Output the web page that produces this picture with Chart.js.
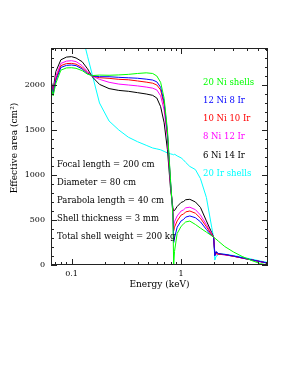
<!DOCTYPE html>
<html>
<head>
<meta charset="utf-8">
<script src="https://cdn.jsdelivr.net/npm/chart.js@4.4.0/dist/chart.umd.min.js"></script>
<style>
  html, body { margin: 0; padding: 0; background: #fff; }
  #wrap { width: 285px; height: 382px; }
</style>
</head>
<body>
<div id="wrap"><canvas id="chart" width="285" height="382"></canvas></div>
<script>
// energy grid (keV), shared by all curves
const energy = [0.065, 0.068, 0.072, 0.08, 0.09, 0.1, 0.11, 0.125, 0.14, 0.155, 0.18, 0.22, 0.27, 0.33, 0.4, 0.48, 0.55, 0.6, 0.65, 0.7, 0.75, 0.8, 0.84, 0.855, 0.87, 0.92, 1.0, 1.05, 1.1, 1.2, 1.35, 1.5, 1.7, 1.9, 1.98, 2.03, 2.08, 2.2, 2.5, 3.0, 3.6, 4.5, 5.3, 6.2];

// effective area (cm2)
const ni20 = [2000, 1880, 2020, 2165, 2190, 2192, 2185, 2160, 2120, 2105, 2110, 2108, 2112, 2118, 2128, 2135, 2128, 2100, 2030, 1850, 1500, 950, 560, 0, 150, 350, 430, 455, 478, 488, 450, 410, 365, 325, 308, 298, 288, 262, 205, 145, 95, 45, 15, 0];
const ni12ir8 = [2020, 1900, 2050, 2195, 2218, 2222, 2215, 2178, 2125, 2102, 2092, 2092, 2085, 2080, 2075, 2065, 2055, 2035, 1975, 1810, 1470, 930, 580, 250, 300, 420, 490, 505, 532, 545, 525, 480, 395, 325, 306, 100, 150, 125, 118, 100, 80, 55, 38, 20];
const ni10ir10 = [2030, 1910, 2070, 2215, 2238, 2240, 2232, 2192, 2135, 2100, 2081, 2074, 2063, 2058, 2045, 2032, 2020, 2000, 1945, 1780, 1450, 910, 600, 380, 420, 490, 555, 565, 590, 600, 575, 520, 425, 335, 306, 110, 125, 118, 115, 98, 78, 54, 37, 20];
const ni8ir12 = [2040, 1925, 2100, 2240, 2265, 2270, 2260, 2215, 2150, 2098, 2063, 2030, 2010, 2000, 1990, 1977, 1965, 1945, 1880, 1720, 1400, 890, 620, 430, 480, 545, 600, 612, 635, 642, 615, 555, 450, 345, 307, 120, 130, 120, 112, 97, 77, 53, 36, 20];
const ni6ir14 = [2050, 1950, 2150, 2280, 2310, 2315, 2300, 2259, 2180, 2090, 2007, 1960, 1940, 1930, 1915, 1900, 1885, 1855, 1760, 1580, 1280, 850, 640, 600, 605, 650, 695, 705, 725, 730, 700, 640, 490, 360, 308, 130, 140, 125, 115, 98, 78, 54, 37, 20];
const ir20 = [4000, 3900, 3750, 3500, 3250, 3000, 2800, 2560, 2320, 2110, 1800, 1600, 1500, 1420, 1370, 1330, 1300, 1290, 1280, 1262, 1245, 1235, 1228, 1222, 1232, 1212, 1190, 1168, 1140, 1095, 1060, 960, 750, 420, 305, 55, 95, 118, 120, 105, 88, 62, 44, 28];

const seriesLabels = ['20 Ni shells', '12 Ni 8 Ir', '10 Ni 10 Ir', '8 Ni 12 Ir', '6 Ni 14 Ir', '20 Ir shells'];
const seriesColors = ['#00ff00', '#0000ff', '#ff0000', '#ff00ff', '#000000', '#00ffff'];
const seriesValues = [ni20, ni12ir8, ni10ir10, ni8ir12, ni6ir14, ir20];

const notes = ['Focal length = 200 cm', 'Diameter = 80 cm', 'Parabola length = 40 cm', 'Shell thickness = 3 mm', 'Total shell weight = 200 kg'];

const xTickValues = [0.1, 1];
const xMinorTicks = [0.07, 0.08, 0.09, 0.1, 0.2, 0.3, 0.4, 0.5, 0.6, 0.7, 0.8, 0.9, 1, 2, 3, 4, 5, 6];
const yTickValues = [0, 500, 1000, 1500, 2000];
const yMinorTicks = [100, 200, 300, 400, 600, 700, 800, 900, 1100, 1200, 1300, 1400, 1600, 1700, 1800, 1900, 2100, 2200, 2300, 2400];

const FONT = 'DejaVu Serif';

const frameTicks = {
    id: 'frameTicks',
    afterDatasetsDraw(chart) {
        const { ctx, chartArea: a, scales: { x, y } } = chart;
        ctx.save();
        ctx.strokeStyle = '#222';
        ctx.lineWidth = 1;
        ctx.strokeRect(a.left + 0.5, a.top + 0.5, a.right - a.left - 1, a.bottom - a.top - 1);
        ctx.beginPath();
        xMinorTicks.forEach(v => {
            const px = Math.round(x.getPixelForValue(v)) + 0.5;
            const len = xTickValues.includes(v) ? 6 : 3;
            ctx.moveTo(px, a.bottom); ctx.lineTo(px, a.bottom - len);
            ctx.moveTo(px, a.top); ctx.lineTo(px, a.top + len);
        });
        yTickValues.concat(yMinorTicks).forEach(v => {
            const py = Math.round(y.getPixelForValue(v)) + 0.5;
            const len = yTickValues.includes(v) ? 6 : 3;
            ctx.moveTo(a.left, py); ctx.lineTo(a.left + len, py);
            ctx.moveTo(a.right, py); ctx.lineTo(a.right - len, py);
        });
        ctx.stroke();
        ctx.restore();
    },
    afterDraw(chart) {
        const { ctx } = chart;
        ctx.save();
        ctx.textBaseline = 'middle';
        ctx.font = '8.5px "' + FONT + '"';
        // legend as coloured text
        seriesLabels.forEach((t, i) => {
            ctx.fillStyle = seriesColors[i];
            ctx.fillText(t, 203, 82.5 + i * 18.2);
        });
        ctx.fillStyle = '#000';
        notes.forEach((t, i) => ctx.fillText(t, 57, 164.5 + i * 18.1));
        // axis titles
        ctx.font = '9px "' + FONT + '"';
        ctx.textAlign = 'center';
        ctx.fillText('Energy (keV)', 159.5, 285);
        ctx.translate(15, 148);
        ctx.rotate(-Math.PI / 2);
        ctx.fillText('Effective area (cm\u00B2)', 0, 0);
        ctx.restore();
    }
};

new Chart(document.getElementById('chart'), {
    type: 'line',
    data: {
        labels: energy,
        datasets: seriesValues.map((vals, i) => ({
            label: seriesLabels[i],
            data: vals.map((v, k) => ({ x: energy[k], y: v })),
            borderColor: seriesColors[i],
            borderWidth: 1,
            pointRadius: 0,
            tension: 0,
            fill: false
        }))
    },
    options: {
        responsive: false,
        devicePixelRatio: 1,
        animation: false,
        layout: { padding: { left: 0, top: 48, right: 17, bottom: 87 } },
        plugins: { legend: { display: false }, tooltip: { enabled: false } },
        scales: {
            x: {
                type: 'logarithmic',
                min: 0.065,
                max: 6.2,
                afterFit: s => { s.height = 30; },
                afterBuildTicks: s => { s.ticks = xTickValues.map(v => ({ value: v })); },
                grid: { display: false, drawTicks: false },
                border: { display: false },
                ticks: {
                    padding: 4,
                    color: '#000',
                    font: { family: FONT, size: 8 },
                    maxRotation: 0,
                    autoSkip: false,
                    callback: v => String(v)
                }
            },
            y: {
                type: 'linear',
                min: 0,
                max: 2411,
                afterFit: s => { s.width = 51; },
                afterBuildTicks: s => { s.ticks = yTickValues.map(v => ({ value: v })); },
                grid: { display: false, drawTicks: false },
                border: { display: false },
                ticks: {
                    padding: 6,
                    color: '#000',
                    font: { family: FONT, size: 8 },
                    callback: v => String(v)
                }
            }
        }
    },
    plugins: [frameTicks]
});
</script>
</body>
</html>
